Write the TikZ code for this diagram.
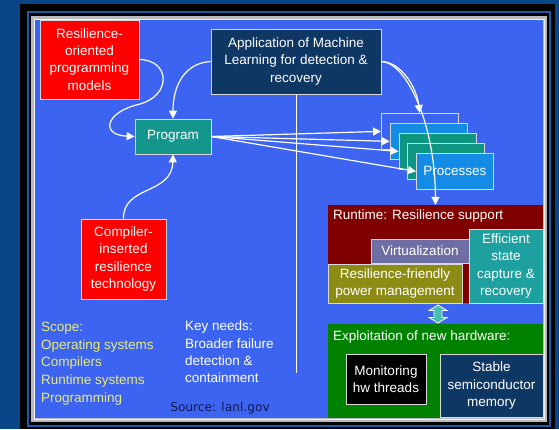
\documentclass[tikz,border=0pt]{standalone}
\usepackage{fontspec}
\setmainfont{Liberation Sans}
\newfontfamily\srcfont{DejaVu Sans}
\usetikzlibrary{arrows.meta}
\definecolor{outerbg}{RGB}{10,70,135}
\definecolor{panel}{RGB}{60,100,240}
\definecolor{frameline}{RGB}{30,90,170}
\definecolor{rimgray}{RGB}{185,185,192}
\definecolor{redbox}{RGB}{255,0,0}
\definecolor{navybox}{RGB}{15,55,100}
\definecolor{progteal}{RGB}{20,150,140}
\definecolor{procblue}{RGB}{20,140,230}
\definecolor{procteal}{RGB}{15,150,130}
\definecolor{rtred}{RGB}{128,0,0}
\definecolor{virtcol}{RGB}{110,110,165}
\definecolor{effteal}{RGB}{30,160,160}
\definecolor{olivecol}{RGB}{140,140,20}
\definecolor{hwgreen}{RGB}{0,130,0}
\definecolor{scopeyellow}{RGB}{235,235,120}
\definecolor{srcnavy}{RGB}{15,25,80}
\definecolor{dblarrow}{RGB}{70,190,175}
\begin{document}
\begin{tikzpicture}[x=1pt,y=-1pt,
  txt/.style={font=\fontsize{13.5}{17.3}\selectfont, text=white, align=center, inner sep=0pt},
  box/.style={txt, draw=white!85!black, line width=0.7pt},
  plain/.style={txt, draw=none},
  flow/.style={draw=white, line width=1.2pt, -{Triangle[length=8pt,width=8pt]}},
  thinline/.style={draw=white, line width=0.8pt}]
\useasboundingbox (0,0) rectangle (559,429);
% frame
\fill[outerbg] (0,0) rectangle (559,429);
\fill[black] (20,4) rectangle (555,429);
\draw[frameline, line width=1.5pt] (28,12) rectangle (550,426);
\fill[rimgray] (31,16) rectangle (547,422);
\draw[white!90!gray, line width=1pt] (34,19) rectangle (544,419);
\fill[panel] (35,20) rectangle (543,418);
% left column
\node[box, fill=redbox, minimum width=99pt, minimum height=79pt] (res) at (89.5,59.5) {Resilience-\\oriented\\programming\\models};
\node[box, fill=navybox, minimum width=170pt, minimum height=65pt] (ml) at (296,61.5) {Application of Machine\\Learning for detection \&\\recovery};
\node[box, fill=progteal, minimum width=76pt, minimum height=35pt] (prog) at (173,136.5) {Program};
\node[box, fill=redbox, minimum width=85pt, minimum height=80pt] (comp) at (123.5,259) {Compiler-\\inserted\\resilience\\technology};
% process stack
\node[box, fill=panel, minimum width=77pt, minimum height=36pt, anchor=north west] (p1) at (381,113) {};
\node[box, fill=procblue, minimum width=77pt, minimum height=36pt, anchor=north west] (p2) at (389.75,123) {};
\node[box, fill=procteal, minimum width=77pt, minimum height=36pt, anchor=north west] (p3) at (398.5,133) {};
\node[box, fill=procteal, minimum width=77pt, minimum height=36pt, anchor=north west] (p4) at (407.25,143) {};
\node[box, fill=procblue, minimum width=77pt, minimum height=36pt, anchor=north west] (p5) at (416,153) {Processes};
% runtime block
\node[plain, fill=rtred, minimum width=215pt, minimum height=98pt] (runtime) at (435.5,254) {};
\node[txt, anchor=west] (rtlabel) at (333,216) {Runtime: Resilience support};
\node[box, fill=virtcol, minimum width=98pt, minimum height=24pt] (virt) at (420,251) {Virtualization};
\node[box, fill=effteal, minimum width=74pt, minimum height=74pt] (eff) at (506,266) {Efficient\\state\\capture \&\\recovery};
\node[box, fill=olivecol, minimum width=134pt, minimum height=39pt] (power) at (395,283.5) {Resilience-friendly\\power management};
% hardware block
\node[plain, fill=hwgreen, minimum width=215pt, minimum height=94pt] (hw) at (435.5,371) {};
\node[txt, anchor=west] (hwlabel) at (333,337) {Exploitation of new hardware:};
\node[box, fill=black, minimum width=80pt, minimum height=50pt] (mon) at (386,379) {Monitoring\\hw threads};
\node[box, fill=navybox, minimum width=103pt, minimum height=63pt] (stable) at (491.5,385.5) {Stable\\semiconductor\\memory};
% double arrow between runtime and hardware
\filldraw[fill=dblarrow, draw=white, line width=0.8pt]
  (438,305) -- (447,310.5) -- (442,310.5) -- (442,317.5) -- (447,317.5) -- (438,323)
  -- (429,317.5) -- (434,317.5) -- (434,310.5) -- (429,310.5) -- cycle;
% free texts
\node[txt, text=scopeyellow, align=left, anchor=north west, font=\fontsize{13.5}{17.6}\selectfont] (scope) at (41,322) {Scope:\\Operating systems\\Compilers\\Runtime systems\\Programming};
\node[txt, align=left, anchor=north west] (keys) at (185,321) {Key needs:\\Broader failure\\detection \&\\containment};
\node[font=\srcfont\fontsize{12.2}{14}\selectfont, text=srcnavy, inner sep=0pt] (src) at (220,408) {Source: lanl.gov};
% connectors
\coordinate (vend) at (296,373);
\draw[thinline] (ml.south) -- (vend);
\draw[flow] (res.east) .. controls (170,60) and (172,95) .. (140,104) .. controls (105,112) and (100,135) .. (prog.west);
\draw[flow] (ml.west) .. controls (185,63) and (173,85) .. (prog.north);
\draw[flow] (comp.north) .. controls (123,185) and (172,195) .. (prog.south);
\draw[flow] (prog.east) -- (p1.west);
\draw[flow] (prog.east) -- (p2.west);
\draw[flow] (prog.east) -- (p3.west);
\draw[flow] (prog.east) -- (p5.west);
\draw[flow] (ml.east) .. controls (400,62) and (416,85) .. (p1.north);
\draw[flow] (ml.east) .. controls (405,62) and (435,120) .. (runtime.north);
\end{tikzpicture}
\end{document}
